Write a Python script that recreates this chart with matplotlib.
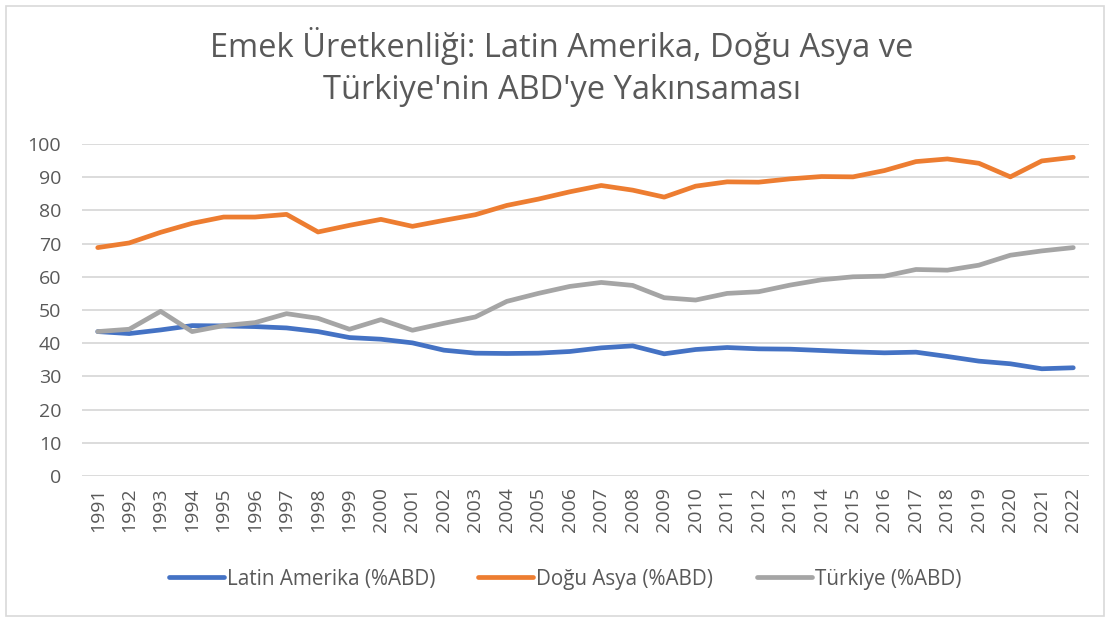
import matplotlib
matplotlib.use('Agg')
import matplotlib.pyplot as plt
import numpy as np

years = list(range(1991, 2023))

latin = [43.5, 42.9, 44.0, 45.3, 45.2, 45.0, 44.6, 43.5, 41.7, 41.2, 40.1, 37.9,
         37.0, 36.9, 37.0, 37.5, 38.6, 39.2, 36.8, 38.1, 38.7, 38.3, 38.2, 37.8,
         37.4, 37.1, 37.3, 36.0, 34.6, 33.8, 32.3, 32.6]
east_asia = [68.8, 70.2, 73.4, 76.1, 78.0, 78.0, 78.8, 73.5, 75.5, 77.3, 75.2, 77.0,
             78.7, 81.5, 83.4, 85.6, 87.5, 86.1, 84.0, 87.3, 88.6, 88.5, 89.5, 90.2,
             90.1, 92.0, 94.7, 95.5, 94.2, 90.1, 94.9, 96.0]
turkey = [43.5, 44.2, 49.6, 43.5, 45.3, 46.2, 48.9, 47.5, 44.2, 47.1, 43.9, 46.0,
          47.9, 52.6, 55.0, 57.1, 58.3, 57.4, 53.7, 53.0, 55.0, 55.5, 57.5, 59.1,
          60.0, 60.2, 62.2, 62.0, 63.5, 66.5, 67.8, 68.8]

labels = ['Latin Amerika (%ABD)', 'Doğu Asya (%ABD)', 'Türkiye (%ABD)']
colors = ['#4472C4', '#ED7D31', '#A5A5A5']

plt.rcParams['font.family'] = ['Open Sans', 'DejaVu Sans']

fig = plt.figure(figsize=(11.12, 6.21), dpi=100)
ax = fig.add_axes([82 / 1112, 1 - 476 / 621, (1089 - 82) / 1112, (476 - 144) / 621])

x = np.arange(len(years))
for series, lab, col in zip([latin, east_asia, turkey], labels, colors):
    ax.plot(x, series, color=col, lw=3.4, label=lab, solid_capstyle='round')

ax.set_xlim(-0.5, len(years) - 0.5)
ax.set_ylim(0, 100)
ax.set_yticks(range(0, 101, 10))
ax.set_xticks(x)
ax.set_xticklabels([str(y) for y in years], rotation=90)
ax.tick_params(axis='both', length=0, labelsize=14, colors='#595959')
ax.tick_params(axis='y', pad=15)
ax.tick_params(axis='x', pad=8)
ax.grid(True, axis='y', color='#D9D9D9', lw=1.3)
ax.set_axisbelow(True)
for s in ax.spines.values():
    s.set_visible(False)

fig.text(0.505, 1 - 67 / 621, "Emek Üretkenliği: Latin Amerika, Doğu Asya ve\nTürkiye'nin ABD'ye Yakınsaması",
         ha='center', va='center', fontsize=23.5, color='#595959', linespacing=1.35)

fig.legend(loc='center', bbox_to_anchor=(0.508, 1 - 579 / 621), ncol=3, frameon=False,
           fontsize=14.9, handlelength=2.65, columnspacing=2.1, handletextpad=0.15,
           labelcolor='#595959')

fig.patches.append(plt.Rectangle((6 / 1112, 5 / 621), 1098 / 1112, 610 / 621,
                                 transform=fig.transFigure, fill=False,
                                 edgecolor='#D9D9D9', lw=1.2))

plt.savefig('out.png', dpi=100)
